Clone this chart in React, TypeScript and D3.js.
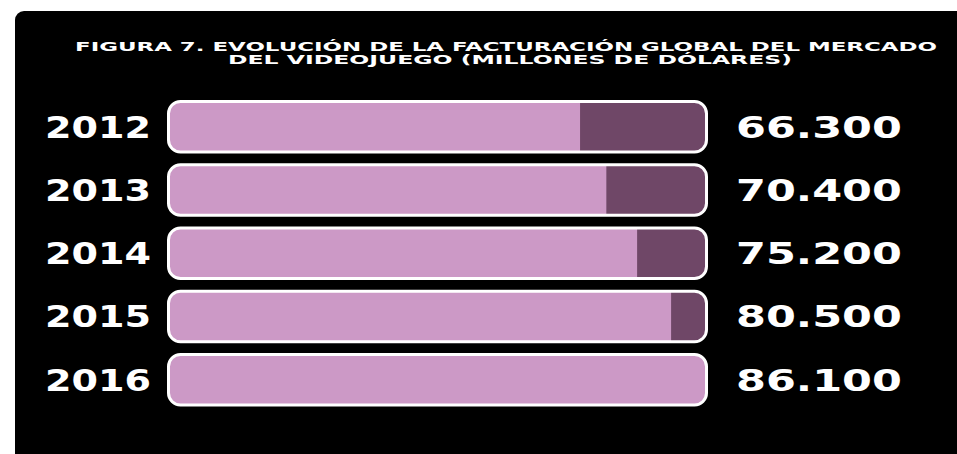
import React from "react";
import * as d3 from "d3";

const years = ["2012", "2013", "2014", "2015", "2016"];
const values = [66300, 70400, 75200, 80500, 86100];
const valueLabels = ["66.300", "70.400", "75.200", "80.500", "86.100"];
const titleLines = [
  "FIGURA 7. EVOLUCIÓN DE LA FACTURACIÓN GLOBAL DEL MERCADO",
  "DEL VIDEOJUEGO (MILLONES DE DÓLARES)",
];

const W = 957;
const H = 454;
const PINK = "#cc99c6";
const DARK = "#6f4767";

export default function App() {
  const maxV = d3.max(values) as number;
  const x = d3.scaleLinear().domain([0, maxV]).range([155, 707]);
  const y = d3
    .scaleBand<string>()
    .domain(years)
    .range([100, 406.5])
    .paddingInner(0.154)
    .paddingOuter(0);
  const bh = y.bandwidth();
  const barLeft = 168.5;
  const barRight = 706.5;

  return (
    <svg
      width={W}
      height={H}
      style={{ position: "absolute", left: 0, top: 0, display: "block" }}
    >
      <rect x={0} y={0} width={W} height={H} fill="#ffffff" />
      <rect x={15} y={11} width={W} height={H} rx={9} fill="#000000" />
      <g
        fill="#ffffff"
        fontFamily="'DejaVu Sans', sans-serif"
        fontWeight="bold"
        fontSize={11.5}
        textAnchor="middle"
      >
        <text x={506} y={50.5} textLength={862} lengthAdjust="spacingAndGlyphs">
          {titleLines[0]}
        </text>
        <text x={510} y={63.5} textLength={564} lengthAdjust="spacingAndGlyphs">
          {titleLines[1]}
        </text>
      </g>
      <defs>
        {years.map((yr) => (
          <clipPath id={`clip-${yr}`} key={yr}>
            <rect
              x={barLeft}
              y={(y(yr) as number) + 1.5}
              width={barRight - barLeft}
              height={bh - 3}
              rx={12}
            />
          </clipPath>
        ))}
      </defs>
      {years.map((yr, i) => {
        const top = y(yr) as number;
        const cy = top + bh / 2;
        const xv = x(values[i]);
        return (
          <g key={yr}>
            <g clipPath={`url(#clip-${yr})`}>
              <rect x={barLeft} y={top} width={barRight - barLeft} height={bh} fill={DARK} />
              <rect x={barLeft} y={top} width={Math.max(0, xv - barLeft)} height={bh} fill={PINK} />
            </g>
            <rect
              x={barLeft}
              y={top + 1.5}
              width={barRight - barLeft}
              height={bh - 3}
              rx={12}
              fill="none"
              stroke="#ffffff"
              strokeWidth={3}
            />
            <text
              x={45}
              y={cy + 11}
              fill="#ffffff"
              fontFamily="'DejaVu Sans', sans-serif"
              fontWeight="bold"
              fontSize={30}
              textLength={106}
              lengthAdjust="spacingAndGlyphs"
            >
              {yr}
            </text>
            <text
              x={819}
              y={cy + 11}
              fill="#ffffff"
              fontFamily="'DejaVu Sans', sans-serif"
              fontWeight="bold"
              fontSize={30}
              textAnchor="middle"
              textLength={166}
              lengthAdjust="spacingAndGlyphs"
            >
              {valueLabels[i]}
            </text>
          </g>
        );
      })}
    </svg>
  );
}
